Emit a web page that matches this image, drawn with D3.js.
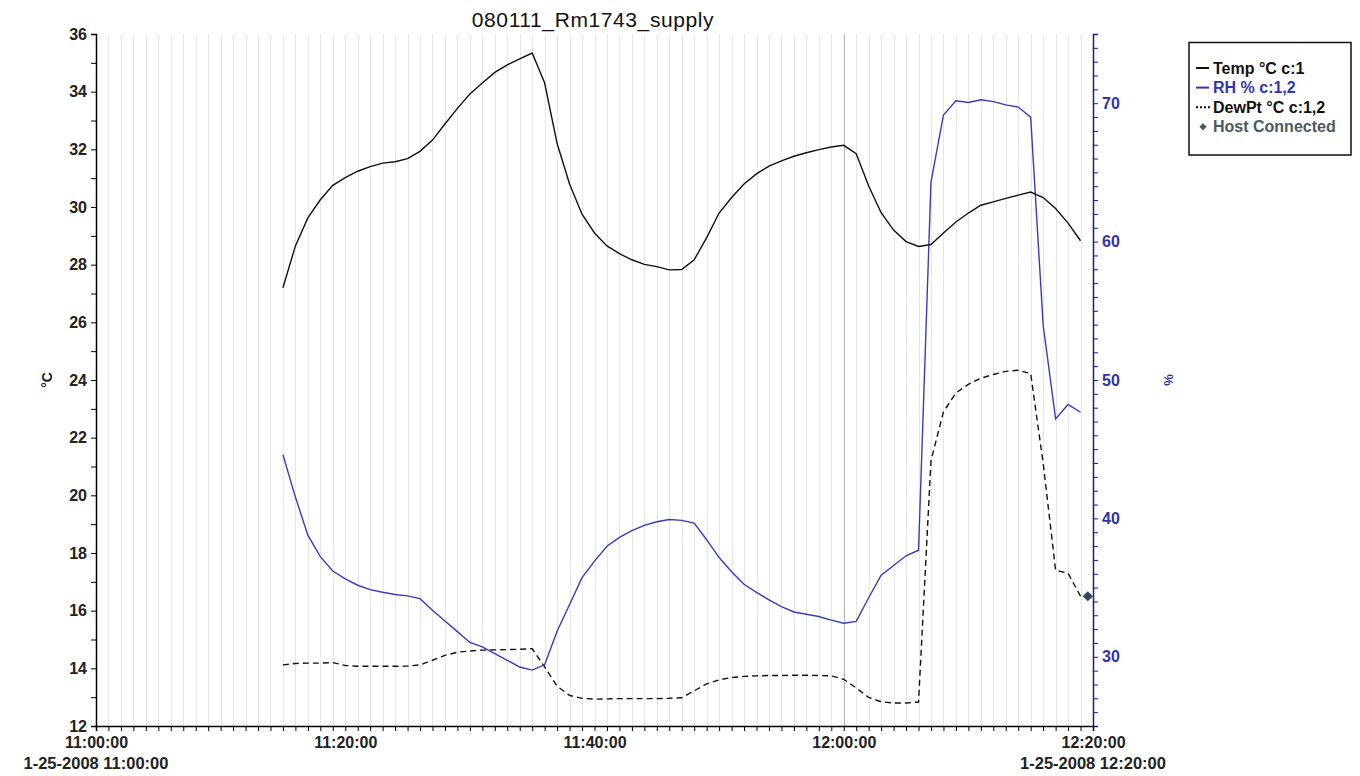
<!DOCTYPE html>
<html>
<head>
<meta charset="utf-8">
<script src="https://cdn.jsdelivr.net/npm/d3@7"></script>
<style>
  html, body { margin: 0; padding: 0; background: #fff; }
  svg { display: block; font-family: Arial, "Liberation Sans", sans-serif; }
</style>
</head>
<body>
<svg id="chart" width="1360" height="776"></svg>
<script>
// Logger readings, one per minute
const times = [
  "11:15","11:16","11:17","11:18","11:19","11:20","11:21","11:22","11:23","11:24",
  "11:25","11:26","11:27","11:28","11:29","11:30","11:31","11:32","11:33","11:34",
  "11:35","11:36","11:37","11:38","11:39","11:40","11:41","11:42","11:43","11:44",
  "11:45","11:46","11:47","11:48","11:49","11:50","11:51","11:52","11:53","11:54",
  "11:55","11:56","11:57","11:58","11:59","12:00","12:01","12:02","12:03","12:04",
  "12:05","12:06","12:07","12:08","12:09","12:10","12:11","12:12","12:13","12:14",
  "12:15","12:16","12:17","12:18","12:19"
];
const tempC = [
  27.20, 28.65, 29.62, 30.25, 30.75, 31.02, 31.24, 31.40, 31.52, 31.57,
  31.68, 31.93, 32.32, 32.88, 33.42, 33.92, 34.30, 34.67, 34.93, 35.14,
  35.34, 34.30, 32.20, 30.80, 29.75, 29.10, 28.65, 28.38, 28.17, 28.01,
  27.93, 27.82, 27.83, 28.17, 28.94, 29.79, 30.33, 30.80, 31.15, 31.42,
  31.60, 31.76, 31.88, 31.99, 32.08, 32.14, 31.85, 30.73, 29.80, 29.20,
  28.80, 28.63, 28.70, 29.10, 29.48, 29.79, 30.06, 30.18, 30.30, 30.41,
  30.52, 30.33, 29.95, 29.44, 28.83
];
const rhPct = [
  44.60, 41.54, 38.79, 37.24, 36.20, 35.63, 35.17, 34.85, 34.66, 34.50,
  34.40, 34.20, 33.36, 32.59, 31.82, 31.04, 30.72, 30.23, 29.75, 29.26,
  29.04, 29.42, 31.85, 33.78, 35.72, 36.91, 37.99, 38.63, 39.11, 39.50,
  39.76, 39.92, 39.86, 39.66, 38.46, 37.17, 36.15, 35.24, 34.66, 34.11,
  33.62, 33.24, 33.07, 32.91, 32.65, 32.43, 32.56, 34.27, 35.90, 36.60,
  37.30, 37.70, 64.30, 69.15, 70.18, 70.05, 70.25, 70.11, 69.88, 69.72,
  68.99, 53.97, 47.19, 48.23, 47.67
];
const dewPtC = [
  14.12, 14.17, 14.18, 14.18, 14.20, 14.10, 14.07, 14.07, 14.07, 14.07,
  14.08, 14.12, 14.28, 14.45, 14.56, 14.60, 14.63, 14.64, 14.65, 14.66,
  14.68, 14.05, 13.38, 13.06, 12.96, 12.93, 12.94, 12.95, 12.95, 12.95,
  12.95, 12.96, 12.98, 13.22, 13.46, 13.60, 13.68, 13.72, 13.74, 13.75,
  13.75, 13.76, 13.76, 13.75, 13.74, 13.62, 13.32, 12.99, 12.84, 12.80,
  12.80, 12.83, 21.20, 22.90, 23.55, 23.85, 24.06, 24.19, 24.30, 24.34,
  24.22, 21.12, 17.40, 17.30, 16.50
];
// Host connection event (plotted on the °C axis)
const hostConnected = [{ time: "12:19:35", value: 16.5 }];

const tempTicks = d3.range(12, 37);      // 12 .. 36, labelled every 2
const rhTicks = d3.range(25, 76);        // 25 .. 75, labelled every 10
const xStart = "11:00:00", xEnd = "12:20:00";
const dateLabel = "1-25-2008";
const title = "080111_Rm1743_supply";

const legendItems = [
  { label: "Temp °C c:1",    color: "#111",    kind: "line" },
  { label: "RH % c:1,2",     color: "#3434b4", kind: "line" },
  { label: "DewPt °C c:1,2", color: "#111",    kind: "dash" },
  { label: "Host Connected", color: "#4b5a60", kind: "diamond" }
];

(function draw() {
  const svg = d3.select("#chart");
  const parseHM = d3.timeParse("%H:%M");
  const parseHMS = d3.timeParse("%H:%M:%S");
  const fmtHMS = d3.timeFormat("%H:%M:%S");
  const font = "Arial, 'Liberation Sans', sans-serif";

  const m = { left: 96, right: 1093, top: 34, bottom: 726 };
  const blueAxis = "#1c1c86";
  const blueText = "#3232b0";

  const x = d3.scaleTime().domain([parseHMS(xStart), parseHMS(xEnd)]).range([m.left, m.right]);
  const yL = d3.scaleLinear().domain([12, 36]).range([m.bottom, m.top]);
  const yR = d3.scaleLinear().domain([25, 75]).range([m.bottom, m.top]);

  const dates = times.map(parseHM);

  // minute grid
  const minutes = d3.timeMinute.range(parseHMS(xStart), parseHMS(xEnd)).slice(1);
  svg.append("g").selectAll("line").data(minutes).join("line")
    .attr("x1", d => Math.round(x(d)) + 0.5).attr("x2", d => Math.round(x(d)) + 0.5)
    .attr("y1", m.top).attr("y2", m.bottom)
    .attr("stroke", d => d.getMinutes() === 0 ? "#b0b0b0" : "#e6e6e6")
    .attr("stroke-width", 1);

  // series
  const lineL = d3.line().x((d, i) => x(dates[i])).y(d => yL(d));
  const lineR = d3.line().x((d, i) => x(dates[i])).y(d => yR(d));

  svg.append("path").datum(dewPtC).attr("d", lineL)
    .attr("fill", "none").attr("stroke", "#111").attr("stroke-width", 1.4)
    .attr("stroke-dasharray", "6,4");
  svg.append("path").datum(rhPct).attr("d", lineR)
    .attr("fill", "none").attr("stroke", "#3a3abf").attr("stroke-width", 1.4);
  svg.append("path").datum(tempC).attr("d", lineL)
    .attr("fill", "none").attr("stroke", "#111").attr("stroke-width", 1.4);

  // host connected marker (square turned 45°)
  const diamond = d3.symbol().type(d3.symbolSquare).size(52);
  svg.append("g").selectAll("path").data(hostConnected).join("path")
    .attr("d", diamond)
    .attr("transform", d => `translate(${x(parseHMS(d.time))},${yL(d.value)}) rotate(45)`)
    .attr("fill", "#33475a");

  // left axis
  const gL = svg.append("g").attr("transform", `translate(${m.left},0)`)
    .call(d3.axisLeft(yL).tickValues(tempTicks).tickSize(5).tickPadding(4)
      .tickFormat(d => d % 2 === 0 ? d : ""));
  gL.select(".domain").attr("stroke", "#000").attr("stroke-width", 1.5);
  gL.selectAll(".tick line").attr("stroke", "#000");
  gL.selectAll("text").attr("font-size", 16).attr("font-weight", "bold")
    .attr("fill", "#222").attr("font-family", font);

  // right axis
  const gR = svg.append("g").attr("transform", `translate(${m.right},0)`)
    .call(d3.axisRight(yR).tickValues(rhTicks).tickSize(5).tickPadding(4)
      .tickFormat(d => d % 10 === 0 ? d : ""));
  gR.select(".domain").attr("stroke", blueAxis).attr("stroke-width", 1.5);
  gR.selectAll(".tick line").attr("stroke", blueAxis);
  gR.selectAll("text").attr("font-size", 16).attr("font-weight", "bold")
    .attr("fill", blueText).attr("font-family", font);

  // bottom axis
  const gX = svg.append("g").attr("transform", `translate(0,${m.bottom})`)
    .call(d3.axisBottom(x).ticks(d3.timeMinute.every(1)).tickSize(5).tickPadding(6)
      .tickFormat(d => d.getMinutes() % 20 === 0 ? fmtHMS(d) : ""));
  gX.select(".domain").attr("stroke", "#000").attr("stroke-width", 1.5);
  gX.selectAll(".tick line").attr("stroke", "#000");
  gX.selectAll("text").attr("font-size", 16).attr("font-weight", "bold")
    .attr("fill", "#222").attr("font-family", font);

  // date line under first and last tick
  [xStart, xEnd].forEach(t => {
    svg.append("text")
      .attr("x", x(parseHMS(t))).attr("y", 769)
      .attr("text-anchor", "middle")
      .attr("font-size", 16.5).attr("font-weight", "bold").attr("fill", "#222")
      .text(`${dateLabel} ${t}`);
  });

  // title
  svg.append("text").attr("x", 593).attr("y", 26.5).attr("text-anchor", "middle")
    .attr("font-size", 21).attr("letter-spacing", 0.6).attr("fill", "#111").text(title);

  // axis titles
  svg.append("text").attr("transform", "translate(52,380) rotate(-90)")
    .attr("text-anchor", "middle").attr("font-size", 14).attr("font-weight", "bold")
    .attr("fill", "#222").text("°C");
  svg.append("text").attr("transform", "translate(1173,380) rotate(-90)")
    .attr("text-anchor", "middle").attr("font-size", 13).attr("font-weight", "bold")
    .attr("fill", blueText).text("%");

  // legend
  const lg = svg.append("g");
  lg.append("rect").attr("x", 1189).attr("y", 42.5).attr("width", 162).attr("height", 112.5)
    .attr("fill", "#fff").attr("stroke", "#111").attr("stroke-width", 1.5);
  legendItems.forEach((it, i) => {
    const cy = 68 + i * 19.6;
    if (it.kind === "line") {
      lg.append("line").attr("x1", 1196).attr("x2", 1209).attr("y1", cy).attr("y2", cy)
        .attr("stroke", it.color).attr("stroke-width", 2);
    } else if (it.kind === "dash") {
      lg.append("line").attr("x1", 1196).attr("x2", 1210).attr("y1", cy).attr("y2", cy)
        .attr("stroke", it.color).attr("stroke-width", 2).attr("stroke-dasharray", "2,2");
    } else {
      lg.append("path").attr("d", d3.symbol().type(d3.symbolSquare).size(26))
        .attr("transform", `translate(1203,${cy}) rotate(45)`).attr("fill", it.color);
    }
    lg.append("text").attr("x", 1213).attr("y", cy + 5.5)
      .attr("font-size", 16).attr("font-weight", "bold").attr("fill", it.color)
      .text(it.label);
  });
})();
</script>
</body>
</html>
